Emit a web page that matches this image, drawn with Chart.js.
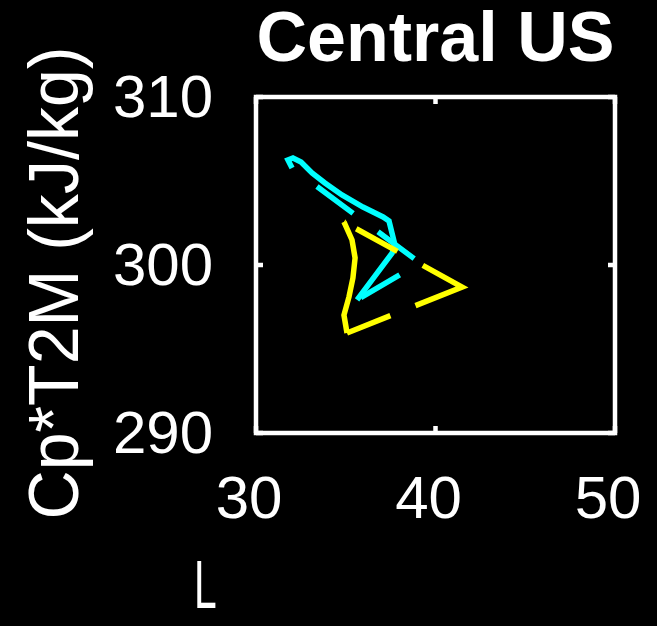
<!DOCTYPE html>
<html>
<head>
  <title>Central US</title>
  <script src="https://cdn.jsdelivr.net/npm/chart.js"></script>
  <style>
    body { margin: 0; background: #000; }
    canvas { background: #000; }
  </style>
</head>
<body>
  <canvas id="myChart" width="657" height="626"></canvas>
  <script>
    const xTicks = [30, 40, 50];
    const yTicks = [290, 300, 310];
    const titleText = 'Central US';
    const xLabel = 'L';
    const yLabel = 'Cp*T2M (kJ/kg)';

    // cyan loop: solid half, then dashed half
    const cyanSolidL = [32.01, 31.78, 32.06, 32.51, 33.12, 33.84, 34.79, 35.96, 37.08, 37.41, 37.63, 37.74, 37.58, 35.63];
    const cyanSolidT = [305.77, 306.25, 306.37, 306.13, 305.48, 304.88, 304.17, 303.45, 302.86, 302.62, 301.67, 301.19, 300.71, 297.92];
    const cyanDashL = [32.01, 39.14, 35.63];
    const cyanDashT = [305.77, 300.12, 297.92];

    // yellow loop: solid arc, then dashed half
    const yellowSolidL = [35.07, 34.90, 35.18, 35.40, 35.52, 35.35, 34.90];
    const yellowSolidT = [295.95, 297.02, 298.10, 299.23, 300.42, 301.49, 302.56];
    const yellowDashL = [34.90, 41.48, 35.07];
    const yellowDashT = [302.56, 298.69, 295.95];

    const FONT = "'Liberation Sans', Arial, Helvetica, sans-serif";
    const pts = (xs, ys) => xs.map((v, i) => ({ x: v, y: ys[i] }));

    const frame = {
      id: 'frame',
      afterDraw(chart) {
        const { ctx, chartArea: a, scales: { x, y } } = chart;
        ctx.save();
        ctx.strokeStyle = '#fff';
        ctx.lineWidth = 4.5;
        ctx.strokeRect(a.left, a.top, a.right - a.left, a.bottom - a.top);
        ctx.beginPath();
        x.ticks.forEach(t => {
          const px = x.getPixelForValue(t.value);
          ctx.moveTo(px, a.bottom); ctx.lineTo(px, a.bottom - 7);
          ctx.moveTo(px, a.top); ctx.lineTo(px, a.top + 7);
        });
        y.ticks.forEach(t => {
          const py = y.getPixelForValue(t.value);
          ctx.moveTo(a.left, py); ctx.lineTo(a.left + 7, py);
          ctx.moveTo(a.right, py); ctx.lineTo(a.right - 7, py);
        });
        ctx.stroke();

        // axis labels
        ctx.fillStyle = '#fff';
        ctx.font = '70px ' + FONT;
        ctx.textAlign = 'center';
        ctx.textBaseline = 'alphabetic';
        ctx.save();
        ctx.translate(a.left - 178, (a.top + a.bottom) / 2 + 18);
        ctx.rotate(-Math.PI / 2);
        const w = ctx.measureText(yLabel).width;
        ctx.scale(473 / w, 1);
        ctx.fillText(yLabel, 0, 0);
        ctx.restore();

        ctx.save();
        ctx.font = '68px ' + FONT;
        ctx.textAlign = 'left';
        ctx.translate(a.left - 62, a.bottom + 175);
        ctx.scale(0.6, 1);
        ctx.fillText(xLabel, 0, 0);
        ctx.restore();
        ctx.restore();
      }
    };

    const chartConfig = {
      type: 'scatter',
      data: {
        datasets: [
          {
            data: pts(yellowSolidL, yellowSolidT),
            borderColor: '#ffff00', borderWidth: 5.5,
          },
          {
            data: pts(yellowDashL, yellowDashT),
            borderColor: '#ffff00', borderWidth: 5.5,
            borderDash: [47, 29, 95, 27, 60, 13], borderDashOffset: 257,
          },
          {
            data: pts(cyanSolidL, cyanSolidT),
            borderColor: '#00ffff', borderWidth: 5.5,
          },
          {
            data: pts(cyanDashL, cyanDashT),
            borderColor: '#00ffff', borderWidth: 5.5,
            borderDash: [45, 31], borderDashOffset: 45,
          },
        ],
      },
      options: {
        responsive: false,
        animation: false,
        showLine: true,
        elements: {
          point: { radius: 0, hoverRadius: 0 },
          line: { tension: 0, borderJoinStyle: 'miter', fill: false },
        },
        layout: { padding: { left: 0, right: 42, top: 0, bottom: 0 } },
        plugins: {
          legend: { display: false },
          tooltip: { enabled: false },
          title: {
            display: true,
            text: titleText,
            color: '#fff',
            fullSize: false,
            font: { family: FONT, size: 70, weight: 'bold' },
            padding: { top: 0, bottom: 13 },
          },
        },
        scales: {
          x: {
            type: 'linear',
            min: 30, max: 50,
            afterBuildTicks: s => { s.ticks = xTicks.map(v => ({ value: v })); },
            afterFit: s => { s.height = 193; s.paddingLeft = 0; s.paddingRight = 0; },
            grid: { display: false, drawTicks: false },
            border: { display: false },
            ticks: {
              color: '#fff', padding: 32, labelOffset: -7, maxRotation: 0, autoSkip: false,
              font: { family: FONT, size: 60 },
            },
          },
          y: {
            type: 'linear',
            min: 290, max: 310,
            afterBuildTicks: s => { s.ticks = yTicks.map(v => ({ value: v })); },
            afterFit: s => { s.width = 256; s.paddingTop = 0; s.paddingBottom = 0; },
            grid: { display: false, drawTicks: false },
            border: { display: false },
            ticks: {
              color: '#fff', padding: 43, labelOffset: 3, autoSkip: false,
              font: { family: FONT, size: 60 },
            },
          },
        },
      },
      plugins: [frame],
    };
    const myChart = new Chart(document.getElementById('myChart'), chartConfig);
  </script>
</body>
</html>
